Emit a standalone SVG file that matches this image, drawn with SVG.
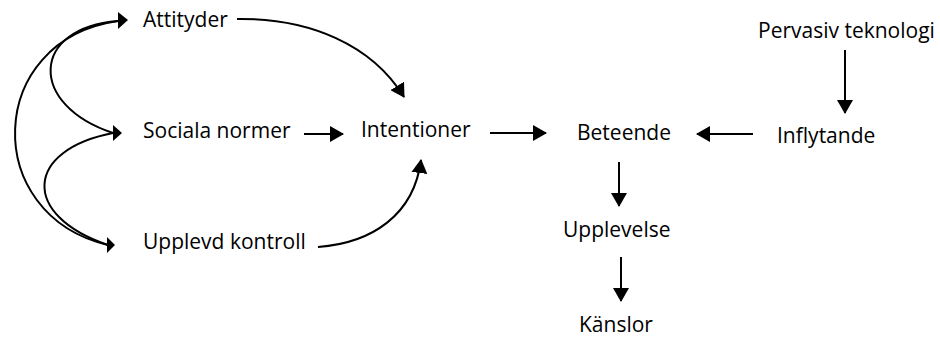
<svg xmlns="http://www.w3.org/2000/svg" width="940" height="338" viewBox="0 0 940 338">
<style>
text{font-family:"Open Sans","Noto Sans",sans-serif;font-size:21px;fill:#000}
.c{fill:none;stroke:#000;stroke-width:2}
.h{fill:#000}
</style>
<defs>
<marker id="ah" markerUnits="userSpaceOnUse" markerWidth="14" markerHeight="16" viewBox="0 0 14 16" refX="13" refY="8" orient="auto">
<path d="M0,0 L14,8 L0,16 z" fill="#000"/>
</marker>
</defs>
<rect width="940" height="338" fill="#fff"/>
<g id="attityder"><text x="143" y="27">Attityder</text></g>
<g id="sociala"><text x="143" y="138">Sociala normer</text></g>
<g id="upplevd"><text x="143" y="249">Upplevd kontroll</text></g>
<g id="intentioner"><text x="361" y="137">Intentioner</text></g>
<g id="beteende"><text x="577" y="140">Beteende</text></g>
<g id="inflytande"><text x="777" y="143">Inflytande</text></g>
<g id="pervasiv"><text x="758" y="38">Pervasiv teknologi</text></g>
<g id="upplevelse"><text x="563" y="237">Upplevelse</text></g>
<g id="kanslor"><text x="579" y="332">Känslor</text></g>
<g id="connectors">
<path class="c" d="M118,21 C30,28 28,105 113,133"/>
<path class="c" d="M113,133 C25,150 20,215 108,245"/>
<path class="c" d="M118,21 C-15,40 -20,215 108,245"/>
<polygon class="h" points="118,12 128,20 118,29"/>
<polygon class="h" points="113,125 122,133 113,141"/>
<polygon class="h" points="107,237 115,245 107,253"/>
<path class="c" d="M237,19 C310,18 372,45 404,97" marker-end="url(#ah)"/>
<path class="c" d="M318,247 C372,243 414,215 421,160" marker-end="url(#ah)"/>
<path class="c" d="M304,134 L343,134" marker-end="url(#ah)"/>
<path class="c" d="M490,133 L546,133" marker-end="url(#ah)"/>
<path class="c" d="M753,134 L697,134" marker-end="url(#ah)"/>
<path class="c" d="M845,50 L845,113" marker-end="url(#ah)"/>
<path class="c" d="M619,162 L619,206" marker-end="url(#ah)"/>
<path class="c" d="M621,257 L621,301" marker-end="url(#ah)"/>
</g>
</svg>
